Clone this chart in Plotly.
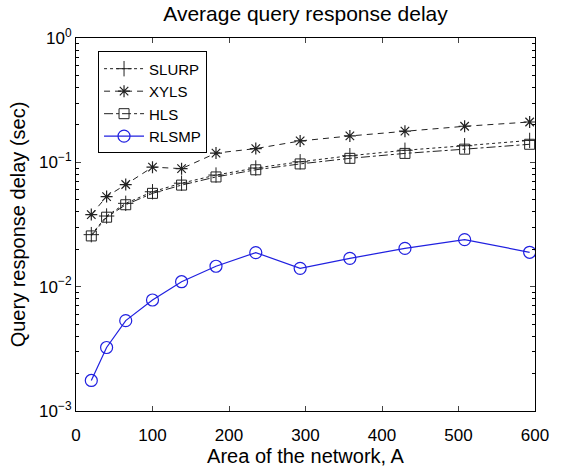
import plotly.graph_objects as go

area = [20, 40, 65, 100, 138, 183, 235, 293, 358, 430, 508, 593]
slurp = [0.0262, 0.0370, 0.0468, 0.0580, 0.0680, 0.0790, 0.0900, 0.1010, 0.1130, 0.1250, 0.1360, 0.1500]
xyls = [0.0380, 0.0530, 0.0663, 0.0915, 0.0890, 0.1186, 0.1290, 0.1486, 0.1630, 0.1780, 0.1950, 0.2110]
hls = [0.0256, 0.0362, 0.0456, 0.0563, 0.0656, 0.0763, 0.0871, 0.0971, 0.1077, 0.1180, 0.1276, 0.1397]
rlsmp = [0.00176, 0.00324, 0.00533, 0.00781, 0.01096, 0.0146, 0.0188, 0.01405, 0.0169, 0.0203, 0.0239, 0.0189]

ytick_vals = [1, 0.1, 0.01, 0.001]
ytick_text = ["10<sup>0</sup>", "10<sup>\u22121</sup>", "10<sup>\u22122</sup>", "10<sup>\u22123</sup>"]
xtick_vals = [0, 100, 200, 300, 400, 500, 600]
minor_vals = [m * d for d in (0.001, 0.01, 0.1) for m in range(2, 10)]

FONT = "Liberation Sans, Arial, Helvetica, sans-serif"
dark = "#222222"
blue = "#2020e0"

fig = go.Figure()
fig.add_trace(go.Scatter(x=area, y=slurp, name="SLURP", mode="lines+markers",
                         line=dict(color=dark, width=1, dash="dot"),
                         marker=dict(symbol="cross-thin-open", size=11, color=dark,
                                     line=dict(color=dark, width=1))))
fig.add_trace(go.Scatter(x=area, y=xyls, name="XYLS", mode="lines+markers",
                         line=dict(color=dark, width=1, dash="6px,5px"),
                         marker=dict(symbol="asterisk-open", size=10, color=dark,
                                     line=dict(color=dark, width=1.2))))
fig.add_trace(go.Scatter(x=area, y=hls, name="HLS", mode="lines+markers",
                         line=dict(color=dark, width=1, dash="dashdot"),
                         marker=dict(symbol="square-open", size=10, color=dark,
                                     line=dict(color=dark, width=1))))
fig.add_trace(go.Scatter(x=area, y=rlsmp, name="RLSMP", mode="lines+markers",
                         line=dict(color=blue, width=1.2),
                         marker=dict(symbol="circle-open", size=12, color=blue,
                                     line=dict(color=blue, width=1.2))))

fig.update_layout(
    width=561, height=471,
    margin=dict(l=76, r=17, t=38, b=52),
    paper_bgcolor="white", plot_bgcolor="white",
    font=dict(family=FONT, size=17, color="black"),
    title=dict(text="Average query response delay", x=0.5, xref="paper", xanchor="center",
               y=0.97, yanchor="middle", font=dict(size=21, family=FONT, color="black")),
    showlegend=True,
    legend=dict(x=0.048, y=0.964, xanchor="left", yanchor="top",
                bordercolor="black", borderwidth=1, bgcolor="white",
                font=dict(size=15, family=FONT), itemwidth=40, tracegroupgap=0),
    xaxis=dict(range=[0, 600], tickvals=xtick_vals, ticks="inside", ticklen=5,
               showline=True, linecolor="black", linewidth=1, mirror="ticks",
               showgrid=False, zeroline=False, ticklabelstandoff=9,
               title=dict(text="Area of the network, A", font=dict(size=20), standoff=0),
               tickfont=dict(size=17)),
    yaxis=dict(type="log", range=[-3, 0], tickvals=ytick_vals, ticktext=ytick_text,
               ticks="inside", ticklen=5,
               showline=True, linecolor="black", linewidth=1, mirror="ticks",
               showgrid=False, zeroline=False,
               minor=dict(tickmode="array", tickvals=minor_vals, ticks="inside",
                          ticklen=3, tickcolor="black", showgrid=False),
               title=dict(text="Query response delay (sec)", font=dict(size=20), standoff=8),
               tickfont=dict(size=17)),
)

fig.write_html("out.html")
